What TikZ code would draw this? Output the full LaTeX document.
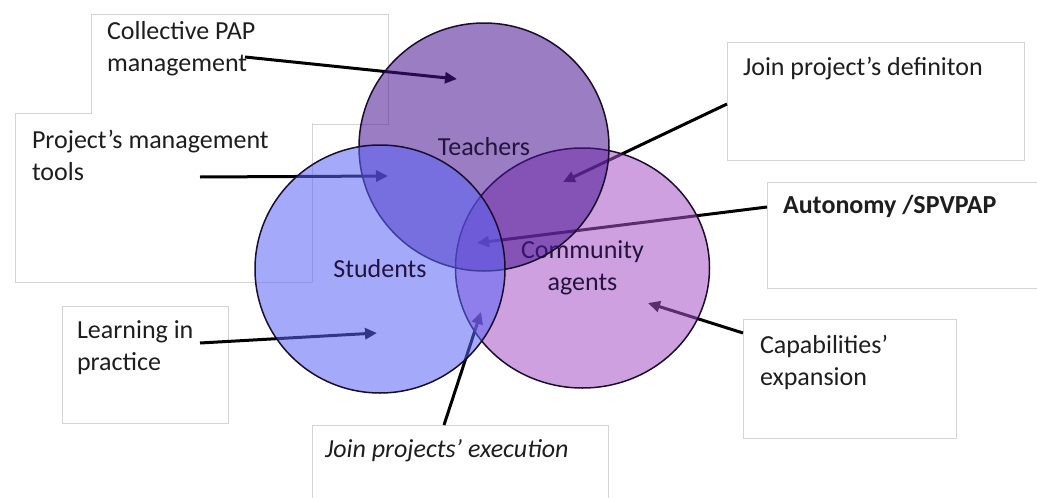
\documentclass[tikz,border=0pt]{standalone}
\usepackage{fontspec}
\setmainfont{Carlito}
\usetikzlibrary{arrows.meta,shapes.geometric}
\definecolor{tcol}{RGB}{73,19,146}
\definecolor{scol}{RGB}{91,100,246}
\definecolor{ccol}{RGB}{168,82,200}
\definecolor{boxgray}{RGB}{212,212,212}
\definecolor{circline}{RGB}{25,15,45}
\definecolor{lblcol}{RGB}{35,20,60}
\definecolor{txtcol}{RGB}{30,30,30}
\begin{document}
\begin{tikzpicture}[x=1pt,y=-1pt,
  box/.style={draw=boxgray, line width=1pt, fill=white, inner sep=0pt, outer sep=0pt, anchor=north west},
  lbl/.style={inner sep=0pt, outer sep=0pt, anchor=base west, align=left, text=txtcol, font=\fontsize{26}{32}\selectfont},
  arr/.style={line width=3pt, black, -{Triangle[length=12pt,width=11pt]}},
  circ/.style={ellipse, draw=circline, line width=1.5pt, fill opacity=0.55, draw opacity=1, text opacity=1,
    text=lblcol, inner sep=0pt, outer sep=0pt, align=center, font=\fontsize{26}{32}\selectfont}
]
\useasboundingbox (0,0) rectangle (1037,498);
\fill[white] (0,0) rectangle (1037,498);

% boxes
\node[box, minimum width=297pt, minimum height=110pt] (bcoll) at (91,14) {};
\node[box, minimum width=297pt, minimum height=169pt] (bproj) at (15,113) {};
\fill[white] ([shift={(0.6,0.6)}]bcoll.north west) rectangle ([shift={(-0.6,-0.6)}]bcoll.south east);
\fill[white] ([shift={(0.6,0.6)}]bproj.north west) rectangle ([shift={(-0.6,-0.6)}]bproj.south east);
\node[box, minimum width=297pt, minimum height=118pt] (bdef) at (727,42) {};
\node[box, minimum width=290pt, minimum height=106pt] (baut) at (767,182) {};
\node[box, minimum width=166pt, minimum height=117pt] (blearn) at (62,306) {};
\node[box, minimum width=296pt, minimum height=100pt] (bexec) at (312,425) {};
\node[box, minimum width=213pt, minimum height=119pt] (bcap) at (743,319) {};

% texts (anchor at the baseline of the last line)
\node[lbl] (tcoll) at (107,71) {Collective PAP\\management};
\node[lbl] (tproj) at (32,180) {Project’s management\\tools};
\node[lbl] (tdef) at (743,75) {Join project’s definiton};
\node[lbl, font=\fontsize{26}{32}\selectfont\bfseries] (taut) at (783,213) {Autonomy /SPVPAP};
\node[lbl] (tlearn) at (77,370) {Learning in\\practice};
\node[lbl] (tcap) at (760,385) {Capabilities’\\expansion};
\node[lbl, font=\fontsize{26}{32}\selectfont\itshape] (texec) at (325,457) {Join projects’ execution};

% arrow end points
\coordinate (a1s) at (245,57);  \coordinate (a1e) at (457,79);
\coordinate (a2s) at (200,177); \coordinate (a2e) at (388,176);
\coordinate (a3s) at (727,104); \coordinate (a3e) at (563,182);
\coordinate (a4s) at (767,207); \coordinate (a4e) at (477,243);
\coordinate (a5s) at (200,343); \coordinate (a5e) at (377,333);
\coordinate (a6s) at (444,425); \coordinate (a6e) at (481,312);
\coordinate (a7s) at (743,333); \coordinate (a7e) at (648,303);

\draw[arr] (a1s) -- (a1e);
\draw[arr] (a2s) -- (a2e);
\draw[arr] (a3s) -- (a3e);
\draw[arr] (a4s) -- (a4e);
\draw[arr] (a5s) -- (a5e);
\draw[arr] (a6s) -- (a6e);
\draw[arr] (a7s) -- (a7e);

% circles
\node[circ, fill=ccol, minimum width=254pt, minimum height=240pt] (comm) at (582.5,268) {Community\\agents};
\node[circ, fill=tcol, minimum width=250pt, minimum height=248pt] (teach) at (484,147) {Teachers};
\node[circ, fill=scol, minimum width=250pt, minimum height=248pt] (stud) at (380,269) {Students};
\end{tikzpicture}
\end{document}
